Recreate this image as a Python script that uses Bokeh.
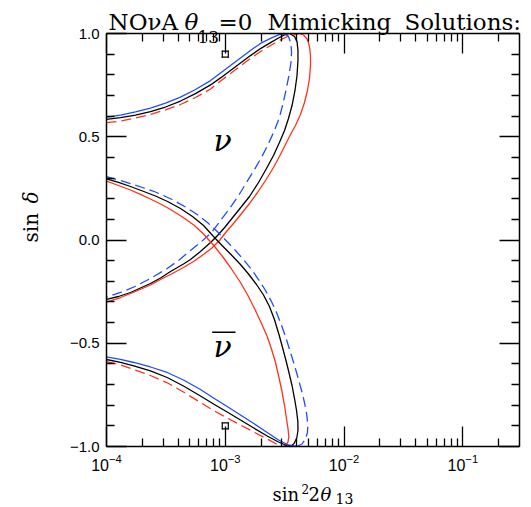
import math
from bokeh.plotting import figure
from bokeh.models import Range1d, FixedTicker, LinearAxis, LogAxis, Label, CustomJSTickFormatter
from bokeh.embed import file_html
from bokeh.resources import INLINE

# ---------------- data ----------------
# x values are given as log10(sin^2 2theta13); y values are sin(delta)

# neutrino loop, upper-left branch (left edge -> sin(delta)=1)
nu_tl_blue_lgx = [-4.0, -3.882, -3.756, -3.630, -3.503, -3.377, -3.251, -3.124, -3.040, -2.956, -2.872, -2.788, -2.7035, -2.619, -2.552, -2.501]
nu_tl_blue_y = [0.595, 0.605, 0.620, 0.639, 0.663, 0.692, 0.729, 0.772, 0.809, 0.845, 0.881, 0.918, 0.952, 0.976, 0.993, 1.0]
nu_tl_black_lgx = [-4.0, -3.882, -3.756, -3.630, -3.503, -3.377, -3.251, -3.124, -3.040, -2.956, -2.872, -2.788, -2.7035, -2.619, -2.552, -2.501, -2.459]
nu_tl_black_y = [0.584, 0.593, 0.605, 0.622, 0.644, 0.673, 0.709, 0.751, 0.785, 0.821, 0.857, 0.893, 0.927, 0.956, 0.978, 0.993, 1.0]
nu_tl_red_lgx = [-4.0, -3.882, -3.756, -3.630, -3.503, -3.377, -3.251, -3.124, -3.040, -2.956, -2.872, -2.788, -2.7035, -2.619, -2.535, -2.468, -2.375]
nu_tl_red_y = [0.568, 0.576, 0.591, 0.608, 0.630, 0.656, 0.690, 0.731, 0.770, 0.806, 0.843, 0.879, 0.913, 0.942, 0.969, 0.988, 1.0]

# neutrino loop, right branch (sin(delta)=1 -> left edge)
nu_r_blue_lgx = [-2.501, -2.468, -2.447, -2.442, -2.447, -2.464, -2.489, -2.514, -2.544, -2.586, -2.636, -2.691, -2.754, -2.821, -2.893, -2.964, -3.040, -3.112, -3.209, -3.293, -3.394, -3.489, -3.630, -3.770, -3.882, -4.0]
nu_r_blue_y = [1.0, 0.9855, 0.9516, 0.9080, 0.8596, 0.7966, 0.7240, 0.6610, 0.5932, 0.5303, 0.4673, 0.4044, 0.3414, 0.2785, 0.2107, 0.1525, 0.0944, 0.0387, -0.0121, -0.0508, -0.0993, -0.1380, -0.1864, -0.2276, -0.2542, -0.2762]
nu_r_black_lgx = [-2.459, -2.417, -2.396, -2.388, -2.388, -2.396, -2.413, -2.438, -2.468, -2.501, -2.544, -2.594, -2.653, -2.720, -2.796, -2.863, -2.931, -2.998, -3.065, -3.124, -3.209, -3.293, -3.352, -3.461, -3.545, -3.630, -3.714, -3.798, -3.899, -4.0]
nu_r_black_y = [1.0, 0.9855, 0.9613, 0.9177, 0.8693, 0.7966, 0.7240, 0.6513, 0.5884, 0.5303, 0.4722, 0.4092, 0.3462, 0.2785, 0.2107, 0.1622, 0.1138, 0.0654, 0.0218, -0.0121, -0.0557, -0.0944, -0.1164, -0.1525, -0.1840, -0.2107, -0.2324, -0.2542, -0.2736, -0.2881]
nu_r_red_lgx = [-2.375, -2.3415, -2.308, -2.291, -2.2825, -2.2825, -2.291, -2.308, -2.333, -2.367, -2.409, -2.451, -2.493, -2.544, -2.594, -2.661, -2.729, -2.796, -2.863, -2.931, -2.990, -3.049, -3.108, -3.183, -3.268, -3.352, -3.461, -3.545, -3.630, -3.756, -3.882, -4.0]
nu_r_red_y = [1.0, 0.9927, 0.9709, 0.9370, 0.8935, 0.8450, 0.7821, 0.7240, 0.6659, 0.6077, 0.5545, 0.5109, 0.4625, 0.4044, 0.3511, 0.2881, 0.2300, 0.1768, 0.1283, 0.0799, 0.0412, -0.0024, -0.0363, -0.0702, -0.1041, -0.1332, -0.1671, -0.1913, -0.2179, -0.2494, -0.2785, -0.3004]

# antineutrino loop, descending branch (left edge -> sin(delta)=-1)
nub_d_blue_lgx = [-4.0, -3.899, -3.798, -3.697, -3.5875, -3.447, -3.335, -3.236, -3.150, -3.068, -2.990, -2.914, -2.844, -2.779, -2.720, -2.661, -2.611, -2.565, -2.5225, -2.485, -2.451, -2.417, -2.388, -2.358, -2.333, -2.314, -2.305, -2.308, -2.325, -2.354, -2.400]
nub_d_blue_y = [0.3075, 0.2906, 0.2736, 0.2542, 0.2324, 0.1961, 0.1598, 0.1235, 0.0847, 0.0412, -0.0048, -0.0508, -0.0968, -0.1429, -0.1913, -0.2445, -0.2978, -0.3559, -0.4189, -0.4818, -0.5448, -0.6077, -0.6659, -0.7288, -0.7869, -0.8450, -0.8983, -0.9322, -0.9637, -0.9879, -1.0]
nub_d_black_lgx = [-4.0, -3.899, -3.798, -3.697, -3.5875, -3.486, -3.377, -3.276, -3.183, -3.099, -3.023, -2.948, -2.872, -2.8045, -2.737, -2.678, -2.628, -2.586, -2.548, -2.518, -2.489, -2.464, -2.438, -2.417, -2.400, -2.389, -2.388, -2.398, -2.421, -2.451]
nub_d_black_y = [0.2964, 0.2785, 0.2591, 0.2373, 0.2131, 0.1864, 0.1525, 0.1138, 0.0702, 0.0170, -0.0290, -0.0726, -0.1186, -0.1646, -0.2155, -0.2663, -0.3220, -0.3850, -0.4576, -0.5206, -0.5835, -0.6416, -0.7046, -0.7676, -0.8257, -0.8789, -0.9225, -0.9588, -0.9855, -1.0]
nub_d_red_lgx = [-4.0, -3.899, -3.798, -3.714, -3.630, -3.545, -3.461, -3.360, -3.265, -3.183, -3.097, -3.023, -2.948, -2.872, -2.8045, -2.746, -2.695, -2.647, -2.611, -2.577, -2.548, -2.5225, -2.501, -2.485, -2.472, -2.465, -2.472, -2.493, -2.518]
nub_d_red_y = [0.2847, 0.2639, 0.2421, 0.2213, 0.1986, 0.1743, 0.1477, 0.1114, 0.0726, 0.0291, -0.0266, -0.0799, -0.1404, -0.2058, -0.2736, -0.3414, -0.4044, -0.4673, -0.5278, -0.5932, -0.6659, -0.7337, -0.8015, -0.8644, -0.9128, -0.9516, -0.9782, -0.9952, -1.0]

# antineutrino loop, lower-left branch (left edge -> sin(delta)=-1)
nub_bl_blue_lgx = [-4.0, -3.882, -3.770, -3.630, -3.489, -3.352, -3.209, -3.099, -2.984, -2.872, -2.760, -2.647, -2.552, -2.468, -2.400]
nub_bl_blue_y = [-0.5656, -0.5777, -0.5932, -0.615, -0.6416, -0.678, -0.724, -0.7651, -0.8063, -0.8475, -0.8886, -0.9322, -0.9685, -0.9927, -1.0]
nub_bl_black_lgx = [-4.0, -3.882, -3.770, -3.630, -3.489, -3.352, -3.209, -3.099, -2.984, -2.872, -2.760, -2.647, -2.552, -2.485, -2.451]
nub_bl_black_y = [-0.5787, -0.5922, -0.6092, -0.6334, -0.6659, -0.7070, -0.7554, -0.7942, -0.8329, -0.8717, -0.9104, -0.9491, -0.9782, -0.9952, -1.0]
nub_bl_red_lgx = [-4.0, -3.882, -3.770, -3.630, -3.489, -3.352, -3.209, -3.099, -2.984, -2.872, -2.760, -2.647, -2.569, -2.518]
nub_bl_red_y = [-0.5893, -0.6053, -0.6271, -0.6562, -0.6915, -0.7361, -0.7869, -0.8257, -0.8620, -0.8959, -0.9298, -0.9637, -0.9879, -1.0]

# marked points
mark_x = [1.0e-3, 1.0e-3]
mark_y = [0.9, -0.9]

# axes
X_MIN, X_MAX = 1e-4, 0.3
Y_MIN, Y_MAX = -1.0, 1.0
x_major_ticks = [1e-4, 1e-3, 1e-2, 1e-1]
x_minor_ticks = [m * d for d in (1e-4, 1e-3, 1e-2, 1e-1) for m in range(2, 10) if m * d <= X_MAX]
y_major_ticks = [-1.0, -0.5, 0.0, 0.5, 1.0]
y_minor_ticks = [-0.9, -0.8, -0.7, -0.6, -0.4, -0.3, -0.2, -0.1, 0.1, 0.2, 0.3, 0.4, 0.6, 0.7, 0.8, 0.9]
y_tick_labels = ["\u22121.0", "\u22120.5", "0.0", "0.5", "1.0"]

BLUE = "#1f4dff"
RED = "#ff3219"
BLACK = "#000000"
LW = 1.3
DASH = "10 5"
SERIF = "DejaVu Serif"

# ---------------- layout: plot box inside the canvas ----------------
W, H = 531, 507
BOX_L, BOX_R, BOX_T, BOX_B = 106, 519, 33, 446
px_per_dec = (BOX_R - BOX_L) / (math.log10(X_MAX) - math.log10(X_MIN))
px_per_y = (BOX_B - BOX_T) / (Y_MAX - Y_MIN)
xr = Range1d(10 ** (math.log10(X_MIN) - BOX_L / px_per_dec),
             10 ** (math.log10(X_MAX) + (W - BOX_R) / px_per_dec))
yr = Range1d(Y_MIN - (H - BOX_B) / px_per_y, Y_MAX + BOX_T / px_per_y)


def sx(px):
    """canvas pixel column -> data x (for text placement only)"""
    return 10 ** (math.log10(X_MIN) + (px - BOX_L) / px_per_dec)


def sy(py):
    """canvas pixel row -> data y (for text placement only)"""
    return Y_MAX - (py - BOX_T) / px_per_y


p = figure(width=W, height=H, x_axis_type="log", x_range=xr, y_range=yr,
           output_backend="svg", toolbar_location=None,
           x_axis_location=None, y_axis_location=None,
           min_border=0, min_border_left=0, min_border_right=0,
           min_border_top=0, min_border_bottom=0)
p.grid.visible = False
p.outline_line_color = None
p.background_fill_color = "white"
p.border_fill_color = "white"


def style_axis(ax):
    ax.major_tick_in = 20
    ax.major_tick_out = 0
    ax.minor_tick_in = 8
    ax.minor_tick_out = 0
    ax.major_tick_line_width = 1.3
    ax.minor_tick_line_width = 1.3
    ax.axis_line_width = 1.5
    ax.axis_line_color = "black"


xt = FixedTicker(ticks=x_major_ticks, minor_ticks=x_minor_ticks)
yt = FixedTicker(ticks=y_major_ticks, minor_ticks=y_minor_ticks)
blank = CustomJSTickFormatter(code="return ''")

bottom = LogAxis(ticker=xt, fixed_location=Y_MIN, bounds=(X_MIN, X_MAX))
style_axis(bottom)
bottom.major_label_text_font = "Liberation Sans"
bottom.major_label_text_font_size = "16px"
bottom.major_label_text_color = "black"
bottom.major_label_standoff = 7
p.add_layout(bottom, "below")

left = LinearAxis(ticker=yt, fixed_location=X_MIN, bounds=(Y_MIN, Y_MAX))
style_axis(left)
left.major_label_overrides = {v: t for v, t in zip(y_major_ticks, y_tick_labels)}
left.major_label_text_font = "Liberation Sans"
left.major_label_text_font_size = "15px"
left.major_label_text_color = "black"
left.major_label_standoff = 7
p.add_layout(left, "left")

top = LogAxis(ticker=xt, formatter=blank, fixed_location=Y_MAX, bounds=(X_MIN, X_MAX))
style_axis(top)
p.add_layout(top, "above")

right = LinearAxis(ticker=yt, formatter=blank, fixed_location=X_MAX, bounds=(Y_MIN, Y_MAX))
style_axis(right)
p.add_layout(right, "right")


# ---------------- curves ----------------
def curve(lgx, y, color, dash="solid"):
    x = [10 ** v for v in lgx]
    p.line(x, y, line_color=color, line_width=LW, line_dash=dash, line_join="round")


curve(nu_tl_blue_lgx, nu_tl_blue_y, BLUE)
curve(nu_tl_black_lgx, nu_tl_black_y, BLACK)
curve(nu_tl_red_lgx, nu_tl_red_y, RED, DASH)
curve(nu_r_blue_lgx, nu_r_blue_y, BLUE, DASH)
curve(nu_r_black_lgx, nu_r_black_y, BLACK)
curve(nu_r_red_lgx, nu_r_red_y, RED)

curve(nub_d_blue_lgx, nub_d_blue_y, BLUE, DASH)
curve(nub_d_black_lgx, nub_d_black_y, BLACK)
curve(nub_d_red_lgx, nub_d_red_y, RED)
curve(nub_bl_blue_lgx, nub_bl_blue_y, BLUE)
curve(nub_bl_black_lgx, nub_bl_black_y, BLACK)
curve(nub_bl_red_lgx, nub_bl_red_y, RED, DASH)

# markers (currency-sign like)
p.scatter(mark_x, mark_y, marker="x", size=10, line_color="black", line_width=1.2)
p.scatter(mark_x, mark_y, marker="square", size=6, fill_color="white", line_color="black", line_width=1.2)

# text helper: (px, py) is the wanted baseline-left point in canvas pixels
SHIFT = 0.35  # Bokeh draws "alphabetic" labels this fraction of the font size lower


def lab(px, py, text, fs, italic=False, vertical=False, align="left"):
    if vertical:
        x, y = sx(px - SHIFT * fs), sy(py)
        angle = math.pi / 2
    else:
        x, y = sx(px), sy(py - SHIFT * fs)
        angle = 0.0
    p.add_layout(Label(x=x, y=y, text=text, text_font=SERIF,
                       text_font_style="italic" if italic else "normal",
                       text_font_size=f"{fs}px", text_align=align, text_baseline="alphabetic",
                       text_color="black", angle=angle))


# nu / nu-bar labels
lab(222, 150, "\u03bd", 30, italic=True, align="center")
lab(222, 356.7, "\u03bd", 30, italic=True, align="center")
p.segment(x0=[sx(211.7)], y0=[sy(331.7)], x1=[sx(235)], y1=[sy(331.7)], line_color="black", line_width=1.5)

# title
lab(108, 29.5, "NO\u03bdA", 23)
lab(184, 29.5, "\u03b8", 23, italic=True)
lab(197, 42, "13", 17)
lab(218, 29.5, "=0", 23)
lab(267, 29.5, "Mimicking", 23)
lab(404, 29.5, "Solutions:", 23)

# x-axis label
lab(272, 500, "sin", 18)
lab(301, 493, "2", 12)
lab(308, 500, "2", 18)
lab(320, 500, "\u03b8", 18, italic=True)
lab(335, 503, "13", 14)

# y-axis label
lab(37, 242, "sin", 20, vertical=True)
lab(37, 203, "\u03b4", 20, italic=True, vertical=True)

open("out.html", "w").write(file_html(p, INLINE))
